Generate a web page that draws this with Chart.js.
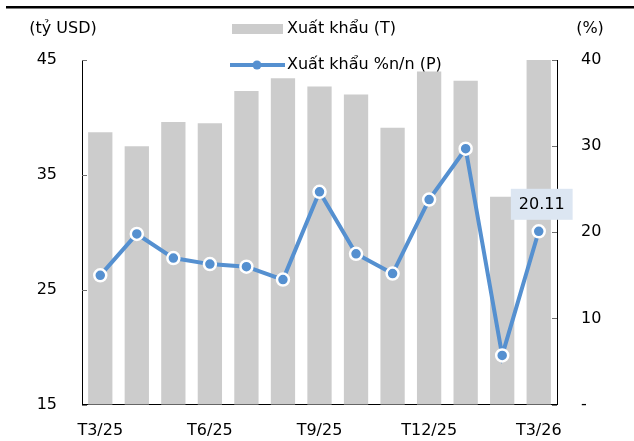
<!DOCTYPE html>
<html>
<head>
<meta charset="utf-8">
<script src="https://cdn.jsdelivr.net/npm/chart.js@4/dist/chart.umd.min.js"></script>
<style>
  html, body { margin: 0; padding: 0; background: #fff; }
  #wrap { width: 634px; height: 441px; position: relative; }
</style>
</head>
<body>
<div id="wrap"><canvas id="chart"></canvas></div>
<script>
const labels = ["T3/25", "T4/25", "T5/25", "T6/25", "T7/25", "T8/25", "T9/25",
  "T10/25", "T11/25", "T12/25", "T1/26", "T2/26", "T3/26"];
const xuatKhau = [38.7, 37.5, 39.6, 39.5, 42.3, 43.4, 42.7, 42.0, 39.1, 44.0, 43.2, 33.1, 45.0];
const tangTruong = [15.0, 19.8, 17.0, 16.3, 16.0, 14.5, 24.7, 17.5, 15.2, 23.8, 29.7, 5.7, 20.11];
const leftTicks = [15, 25, 35, 45];
const rightTicks = [0, 10, 20, 30, 40];

const BLUE = "#5590d0";
const GRAY = "#cccccc";
const FONT = "'DejaVu Sans', Verdana, sans-serif";

Chart.defaults.font.family = FONT;
Chart.defaults.font.size = 16;
Chart.defaults.color = "#000";

// khung, chu thich, nhan du lieu
const trangTri = {
  id: "trangTri",
  afterDraw(chart) {
    const ctx = chart.ctx;
    const yL = chart.scales.y;
    const yR = chart.scales.y1;
    ctx.save();
    // vach den tren cung
    ctx.fillStyle = "#000";
    ctx.fillRect(6, 6, 628, 2.5);

    // vach chia ben trong
    ctx.strokeStyle = "#707070";
    ctx.lineWidth = 1;
    leftTicks.forEach(v => {
      const y = Math.round(yL.getPixelForValue(v)) + 0.5;
      ctx.beginPath();
      ctx.moveTo(yL.right, y);
      ctx.lineTo(yL.right + 5, y);
      ctx.stroke();
    });
    rightTicks.forEach(v => {
      const y = Math.round(yR.getPixelForValue(v)) + 0.5;
      ctx.beginPath();
      ctx.moveTo(yR.left - 5, y);
      ctx.lineTo(yR.left, y);
      ctx.stroke();
    });

    // ten truc
    ctx.font = "16px " + FONT;
    ctx.fillStyle = "#000";
    ctx.textBaseline = "middle";
    ctx.textAlign = "center";
    ctx.fillText("(tỷ USD)", 63, 29);
    ctx.fillText("(%)", 590, 29);

    // chu thich
    ctx.textAlign = "left";
    ctx.fillStyle = GRAY;
    ctx.fillRect(232, 24, 51, 10);
    ctx.fillStyle = "#000";
    ctx.fillText(chart.data.datasets[0].label, 287, 29);

    ctx.strokeStyle = BLUE;
    ctx.lineWidth = 4;
    ctx.beginPath();
    ctx.moveTo(230, 65);
    ctx.lineTo(285, 65);
    ctx.stroke();
    ctx.fillStyle = BLUE;
    ctx.beginPath();
    ctx.arc(257, 65, 4.5, 0, Math.PI * 2);
    ctx.fill();
    ctx.fillStyle = "#000";
    ctx.fillText(chart.data.datasets[1].label, 287, 65);

    // nhan gia tri cuoi
    const meta = chart.getDatasetMeta(1);
    const last = meta.data[meta.data.length - 1];
    const txt = tangTruong[tangTruong.length - 1].toFixed(2);
    const w = ctx.measureText(txt).width + 16;
    const cx = last.x + 3, cy = last.y - 27;
    ctx.fillStyle = "#dce6f2";
    ctx.fillRect(cx - w / 2, cy - 15.5, w, 31);
    ctx.fillStyle = "#000";
    ctx.textAlign = "center";
    ctx.fillText(txt, cx, cy + 1);
    ctx.restore();
  }
};

new Chart(document.getElementById("chart"), {
  data: {
    labels: labels,
    datasets: [
      {
        type: "bar",
        label: "Xuất khẩu (T)",
        data: xuatKhau,
        yAxisID: "y",
        backgroundColor: GRAY,
        barPercentage: 0.665,
        categoryPercentage: 1,
        order: 2
      },
      {
        type: "line",
        label: "Xuất khẩu %n/n (P)",
        data: tangTruong,
        yAxisID: "y1",
        borderColor: BLUE,
        borderWidth: 4,
        pointRadius: 6,
        pointBorderWidth: 2.5,
        pointBorderColor: "#fff",
        pointBackgroundColor: BLUE,
        tension: 0,
        order: 1
      }
    ]
  },
  options: {
    responsive: true,
    maintainAspectRatio: false,
    animation: false,
    layout: { padding: { top: 60, left: 0, right: 0, bottom: 0 } },
    plugins: {
      legend: { display: false },
      tooltip: { enabled: false }
    },
    scales: {
      x: {
        grid: { display: false, drawTicks: false },
        border: { display: true, color: "#000", width: 1 },
        ticks: {
          autoSkip: false,
          maxRotation: 0,
          padding: 17,
          callback: (v, i) => (i % 3 === 0 ? labels[i] : "")
        },
        afterFit: s => { s.height = 36.5; }
      },
      y: {
        position: "left",
        min: 15,
        max: 45,
        grid: { display: false, drawTicks: false },
        border: { display: true, color: "#000", width: 1 },
        ticks: { stepSize: 10, padding: 25 },
        afterFit: s => { s.width = 82; }
      },
      y1: {
        position: "right",
        min: 0,
        max: 40,
        grid: { display: false, drawTicks: false },
        border: { display: true, color: "#000", width: 1 },
        ticks: {
          stepSize: 10,
          padding: 24,
          callback: v => (v === 0 ? "-" : v)
        },
        afterFit: s => { s.width = 77; }
      }
    }
  },
  plugins: [trangTri]
});
</script>
</body>
</html>
